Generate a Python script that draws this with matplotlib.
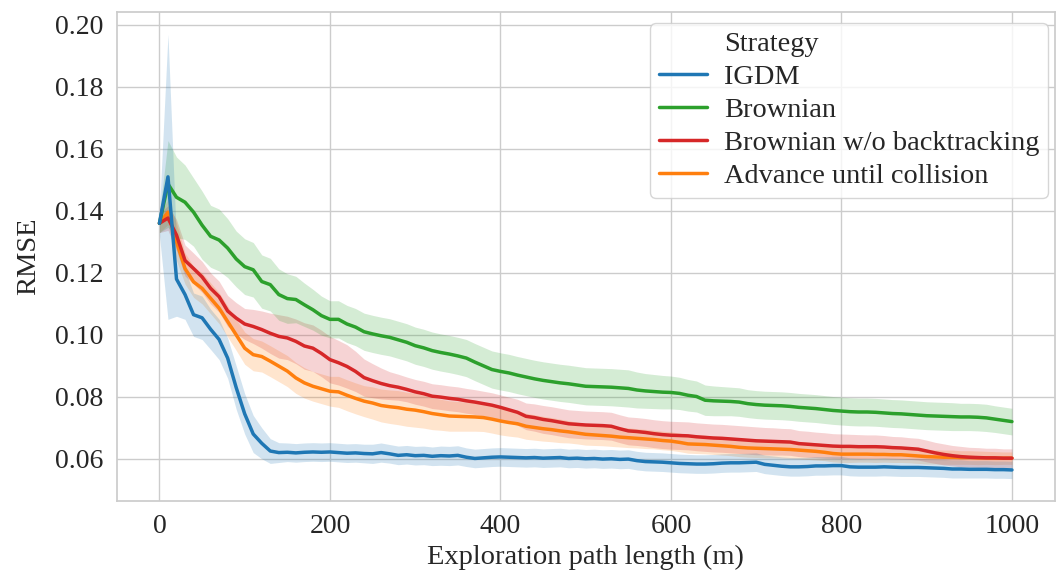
import numpy as np
import matplotlib
matplotlib.use("Agg")
import matplotlib.pyplot as plt
import seaborn as sns
from matplotlib.lines import Line2D

# path length samples (m)
path_len = np.arange(0, 1001, 10)

igdm = [
    .1360, .1510, .1180, .1130, .1065, .1055, .1018, .0985, .0925, .0830,
    .0745, .0680, .0650, .0625, .0620, .0621, .0619, .0621, .0622, .0621,
    .0622, .0620, .0618, .0619, .0617, .0616, .0620, .0616, .0611, .0613,
    .0610, .0611, .0608, .0610, .0609, .0611, .0605, .0601, .0603, .0605,
    .0606, .0605, .0604, .0603, .0604, .0602, .0603, .0604, .0601, .0602,
    .0600, .0601, .0599, .0600, .0598, .0599, .0594, .0591, .0590, .0589,
    .0587, .0585, .0584, .0583, .0583, .0584, .0586, .0587, .0587, .0588,
    .0589, .0582, .0579, .0576, .0574, .0574, .0575, .0577, .0577, .0578,
    .0578, .0574, .0573, .0573, .0573, .0574, .0573, .0572, .0572, .0572,
    .0571, .0570, .0569, .0567, .0567, .0566, .0566, .0566, .0565, .0565,
    .0564,
]
igdm_ci = [
    .0040, .0460, .0120, .0080, .0070, .0070, .0065, .0065, .0065, .0070,
    .0065, .0060, .0050, .0040, .0032, .0030, .0030, .0030, .0030, .0030,
    .0030, .0030, .0030, .0030, .0030, .0031, .0031, .0030, .0030, .0030,
    .0030, .0030, .0030, .0031, .0031, .0031, .0030, .0030, .0030, .0030,
    .0030, .0030, .0030, .0030, .0030, .0030, .0030, .0030, .0030, .0030,
    .0030, .0030, .0030, .0030, .0030, .0030, .0030, .0030, .0030, .0030,
    .0030, .0030, .0030, .0030, .0030, .0030, .0030, .0030, .0030, .0030,
    .0030, .0030, .0030, .0030, .0030, .0030, .0030, .0030, .0030, .0030,
    .0030, .0029, .0029, .0029, .0029, .0029, .0029, .0029, .0029, .0029,
    .0029, .0029, .0029, .0029, .0029, .0028, .0028, .0028, .0028, .0028,
    .0028,
]

brownian = [
    .1360, .1487, .1444, .1428, .1396, .1354, .1318, .1306, .1280, .1245,
    .1220, .1210, .1172, .1162, .1130, .1117, .1114, .1097, .1081, .1062,
    .1050, .1050, .1035, .1025, .1010, .1003, .0997, .0992, .0984, .0976,
    .0965, .0958, .0949, .0943, .0938, .0932, .0925, .0912, .0900, .0888,
    .0882, .0877, .0870, .0864, .0858, .0853, .0849, .0845, .0842, .0838,
    .0834, .0833, .0832, .0831, .0829, .0827, .0822, .0819, .0817, .0815,
    .0814, .0811, .0805, .0801, .0789, .0787, .0786, .0785, .0783, .0778,
    .0775, .0773, .0772, .0771, .0769, .0766, .0764, .0762, .0759, .0756,
    .0754, .0752, .0751, .0751, .0750, .0748, .0746, .0745, .0743, .0741,
    .0739, .0738, .0737, .0736, .0735, .0735, .0734, .0732, .0728, .0724,
    .0720,
]
brownian_ci = [
    .0030, .0140, .0130, .0120, .0110, .0110, .0100, .0100, .0095, .0090,
    .0090, .0088, .0086, .0085, .0083, .0080, .0075, .0070, .0066, .0063,
    .0060, .0060, .0060, .0060, .0060, .0060, .0060, .0060, .0060, .0060,
    .0060, .0060, .0060, .0060, .0060, .0060, .0060, .0060, .0060, .0060,
    .0060, .0060, .0060, .0060, .0060, .0060, .0060, .0060, .0060, .0060,
    .0060, .0060, .0060, .0060, .0060, .0060, .0058, .0056, .0055, .0054,
    .0053, .0052, .0051, .0050, .0049, .0048, .0047, .0046, .0046, .0045,
    .0045, .0045, .0045, .0045, .0045, .0045, .0045, .0045, .0045, .0045,
    .0045, .0045, .0045, .0045, .0045, .0045, .0045, .0045, .0045, .0045,
    .0045, .0045, .0045, .0045, .0044, .0044, .0044, .0044, .0043, .0043,
    .0043,
]

no_backtrack = [
    .1360, .1377, .1322, .1240, .1214, .1187, .1150, .1123, .1077, .1054,
    .1035, .1027, .1017, .1005, .0995, .0990, .0979, .0964, .0957, .0940,
    .0920, .0910, .0898, .0882, .0862, .0852, .0843, .0836, .0831, .0824,
    .0816, .0810, .0802, .0799, .0795, .0792, .0787, .0783, .0778, .0773,
    .0766, .0758, .0750, .0737, .0733, .0727, .0723, .0718, .0713, .0711,
    .0709, .0708, .0707, .0705, .0697, .0690, .0688, .0685, .0681, .0678,
    .0676, .0675, .0674, .0671, .0669, .0667, .0666, .0664, .0662, .0660,
    .0658, .0657, .0656, .0655, .0654, .0649, .0647, .0645, .0643, .0641,
    .0640, .0640, .0639, .0639, .0639, .0638, .0636, .0635, .0633, .0631,
    .0625, .0619, .0614, .0610, .0607, .0605, .0604, .0603, .0603, .0602,
    .0602,
]
no_backtrack_ci = [
    .0030, .0040, .0050, .0050, .0050, .0050, .0050, .0050, .0050, .0050,
    .0050, .0055, .0060, .0065, .0070, .0070, .0072, .0075, .0075, .0075,
    .0075, .0072, .0070, .0065, .0060, .0055, .0050, .0045, .0042, .0040,
    .0040, .0040, .0040, .0040, .0040, .0040, .0040, .0040, .0040, .0040,
    .0040, .0041, .0042, .0043, .0044, .0045, .0045, .0045, .0045, .0045,
    .0045, .0045, .0045, .0045, .0045, .0045, .0045, .0045, .0045, .0045,
    .0045, .0045, .0045, .0045, .0045, .0045, .0045, .0045, .0045, .0045,
    .0045, .0044, .0044, .0043, .0043, .0042, .0042, .0041, .0041, .0040,
    .0040, .0039, .0039, .0038, .0038, .0037, .0036, .0036, .0035, .0035,
    .0035, .0034, .0034, .0033, .0033, .0032, .0032, .0031, .0031, .0030,
    .0030,
]

advance = [
    .1360, .1396, .1300, .1214, .1171, .1150, .1118, .1086, .1043, .1000,
    .0957, .0936, .0930, .0915, .0899, .0883, .0861, .0845, .0834, .0826,
    .0818, .0816, .0805, .0795, .0786, .0780, .0772, .0768, .0765, .0760,
    .0757, .0752, .0746, .0742, .0738, .0737, .0736, .0735, .0733, .0728,
    .0722, .0717, .0713, .0705, .0701, .0697, .0694, .0690, .0687, .0683,
    .0679, .0677, .0675, .0673, .0670, .0668, .0666, .0664, .0662, .0659,
    .0657, .0653, .0648, .0647, .0646, .0644, .0642, .0640, .0637, .0635,
    .0634, .0633, .0632, .0631, .0630, .0628, .0626, .0624, .0621, .0617,
    .0615, .0615, .0615, .0615, .0614, .0614, .0613, .0613, .0611, .0609,
    .0607, .0606, .0605, .0605, .0604, .0604, .0603, .0603, .0602, .0602,
    .0602,
]
advance_ci = [
    .0030, .0040, .0060, .0050, .0050, .0050, .0050, .0050, .0050, .0050,
    .0052, .0052, .0050, .0050, .0050, .0050, .0050, .0049, .0048, .0048,
    .0048, .0050, .0050, .0050, .0050, .0052, .0053, .0054, .0055, .0055,
    .0055, .0053, .0052, .0050, .0049, .0048, .0047, .0046, .0045, .0045,
    .0045, .0044, .0043, .0042, .0041, .0040, .0039, .0038, .0036, .0035,
    .0035, .0034, .0033, .0033, .0032, .0032, .0031, .0031, .0030, .0030,
    .0030, .0030, .0030, .0030, .0030, .0030, .0030, .0030, .0030, .0030,
    .0030, .0030, .0029, .0029, .0029, .0028, .0028, .0028, .0027, .0027,
    .0027, .0027, .0026, .0026, .0026, .0025, .0025, .0025, .0024, .0024,
    .0024, .0023, .0023, .0023, .0022, .0022, .0022, .0021, .0021, .0020,
    .0020,
]

labels = ["IGDM", "Brownian", "Brownian w/o backtracking", "Advance until collision"]
colors = ["#1f77b4", "#2ca02c", "#d62728", "#ff7f0e"]
series = [(igdm, igdm_ci), (brownian, brownian_ci),
          (no_backtrack, no_backtrack_ci), (advance, advance_ci)]

sns.set_theme(style="whitegrid")
plt.rcParams['font.family'] = ['Liberation Serif', 'DejaVu Serif']

fig, ax = plt.subplots(figsize=(10.62, 5.75), dpi=100)
fig.subplots_adjust(left=0.110, right=0.993, top=0.979, bottom=0.129)

# draw in reverse so blue stays on top
for (mean, ci), col, lab in reversed(list(zip(series, colors, labels))):
    mean = np.array(mean)
    ci = np.array(ci)
    ax.fill_between(path_len, mean - ci, mean + ci, color=col, alpha=0.2, lw=0)
    ax.plot(path_len, mean, color=col, lw=2.5, label=lab)

ax.set_xticks([0, 200, 400, 600, 800, 1000])
ax.set_yticks(np.arange(0.06, 0.201, 0.02))
ax.yaxis.set_major_formatter(matplotlib.ticker.FormatStrFormatter('%.2f'))
ax.tick_params(labelsize=20, colors='#262626')
ax.set_xlabel("Exploration path length (m)", fontsize=20.5)
ax.set_ylabel("RMSE", fontsize=20.5, labelpad=10)

handles = [Line2D([], [], color='none')] + \
          [Line2D([], [], color=c, lw=2.5) for c in colors]
ax.legend(handles, ["Strategy"] + labels, loc='upper right', fontsize=20.4,
          bbox_to_anchor=(1 - 7 / 938, 1 - 11 / 489), borderaxespad=0,
          handlelength=1.7, labelspacing=0.25, borderpad=0.3,
          handletextpad=0.6, framealpha=0.8)

fig.savefig("out.png", dpi=100)
